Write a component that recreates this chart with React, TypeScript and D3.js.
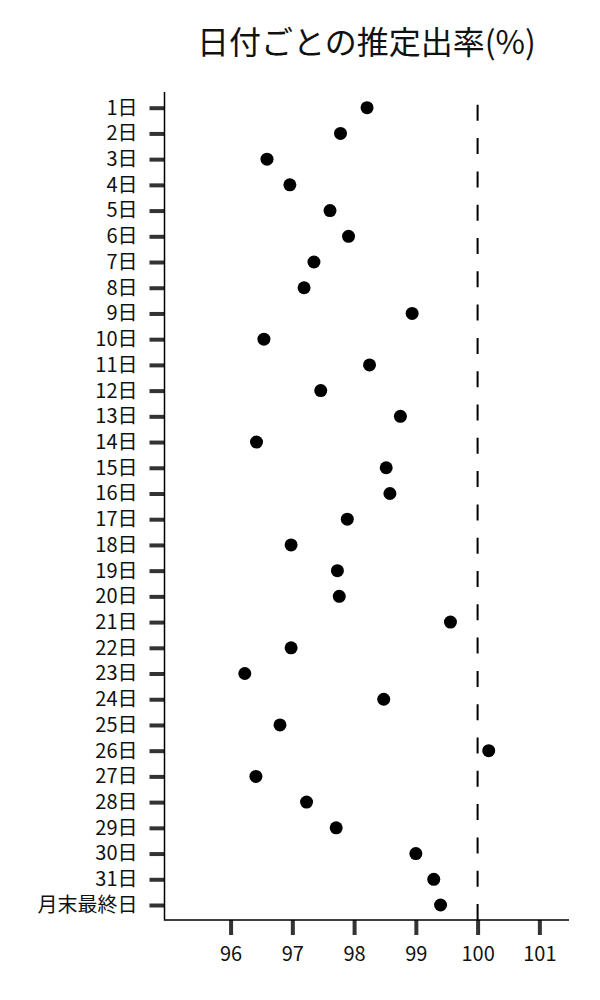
import * as d3 from "d3";
import React, { useEffect, useRef } from "react";

// date rows, top to bottom
const days: string[] = [
  "1日", "2日", "3日", "4日", "5日", "6日", "7日", "8日", "9日", "10日",
  "11日", "12日", "13日", "14日", "15日", "16日", "17日", "18日", "19日", "20日",
  "21日", "22日", "23日", "24日", "25日", "26日", "27日", "28日", "29日", "30日",
  "31日", "月末最終日",
];

// estimated rate (%) per row
const rates: number[] = [
  98.21, 97.78, 96.59, 96.96, 97.61, 97.91, 97.35, 97.19, 98.94, 96.54,
  98.25, 97.46, 98.75, 96.42, 98.52, 98.58, 97.89, 96.98, 97.73, 97.76,
  99.56, 96.98, 96.23, 98.48, 96.8, 100.18, 96.41, 97.23, 97.71, 99.0,
  99.29, 99.4,
];

const xTicks: number[] = [96, 97, 98, 99, 100, 101];
const refValue = 100;
const title = "日付ごとの推定出率(%)";

const FONT = "'Noto Sans CJK JP', 'Noto Sans', sans-serif";

const DotPlot: React.FC<{ width?: number; height?: number }> = ({
  width = 600,
  height = 1000,
}) => {
  const ref = useRef<SVGSVGElement | null>(null);

  useEffect(() => {
    if (!ref.current) return;
    const svg = d3.select(ref.current);
    svg.selectAll("*").remove();

    // plot box
    const left = 164.5;
    const right = 569;
    const top = 92;
    const bottom = 920;

    const data = days.map((d, i) => ({ name: d, value: rates[i] }));

    const x = d3.scaleLinear().domain([94.93, 101.48]).range([left, right]);
    // first/last row centres
    const y = d3.scalePoint<string>().domain(days).range([107.7, 905]);

    svg
      .append("rect")
      .attr("width", width)
      .attr("height", height)
      .attr("fill", "white");

    // title
    svg
      .append("text")
      .attr("x", 366.5)
      .attr("y", 54)
      .attr("text-anchor", "middle")
      .style("font-family", FONT)
      .style("font-size", "32px")
      .attr("fill", "#111")
      .text(title);

    // reference line at 100
    svg
      .append("line")
      .attr("x1", x(refValue))
      .attr("x2", x(refValue))
      .attr("y1", bottom)
      .attr("y2", top)
      .attr("stroke", "#000")
      .attr("stroke-width", 2)
      .attr("stroke-dasharray", "16 17.3");

    // y-axis
    const yAxis = svg
      .append("g")
      .attr("transform", `translate(${left},0)`)
      .call(d3.axisLeft(y).tickSize(15).tickSizeOuter(0).tickPadding(12));
    yAxis.select(".domain").remove();
    yAxis.selectAll(".tick line").attr("stroke", "#333").attr("stroke-width", 4);
    yAxis
      .selectAll(".tick text")
      .style("font-family", FONT)
      .style("font-size", "20px")
      .attr("fill", "#111");

    // x-axis
    const xAxis = svg
      .append("g")
      .attr("transform", `translate(0,${bottom})`)
      .call(
        d3
          .axisBottom(x)
          .tickValues(xTicks)
          .tickFormat(d3.format("d"))
          .tickSize(15)
          .tickSizeOuter(0)
          .tickPadding(12)
      );
    xAxis.select(".domain").remove();
    xAxis.selectAll(".tick line").attr("stroke", "#333").attr("stroke-width", 4);
    xAxis
      .selectAll(".tick text")
      .style("font-family", FONT)
      .style("font-size", "20px")
      .attr("fill", "#111");

    // axis spines
    svg
      .append("path")
      .attr("d", `M${left},${top}V${bottom}H${right}`)
      .attr("fill", "none")
      .attr("stroke", "#000")
      .attr("stroke-width", 1.5);

    // dots
    svg
      .append("g")
      .selectAll("circle")
      .data(data)
      .enter()
      .append("circle")
      .attr("cx", (d) => x(d.value))
      .attr("cy", (d) => y(d.name)!)
      .attr("r", 6.5)
      .attr("fill", "#000");
  }, [width, height]);

  return (
    <svg
      ref={ref}
      width={width}
      height={height}
      style={{ position: "absolute", left: 0, top: 0 }}
    ></svg>
  );
};

export default function App() {
  return <DotPlot />;
}
